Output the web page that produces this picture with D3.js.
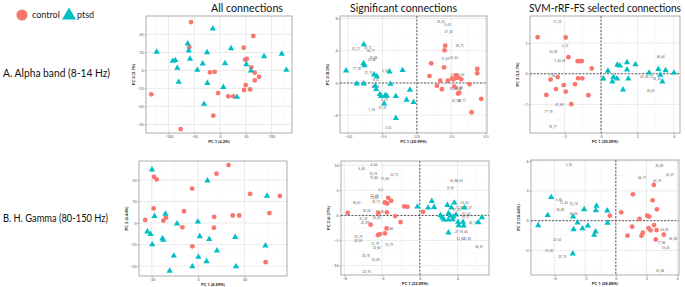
<!DOCTYPE html>
<html>
<head>
<meta charset="utf-8">
<script src="https://cdn.jsdelivr.net/npm/d3@7"></script>
<style>
  body { margin: 0; background: #fff; }
  svg { display: block; }
</style>
</head>
<body>
<div id="chart"></div>
<script>
// ---- data: PC scores, [PC1, PC2] ----

// A. Alpha band, all connections
const alphaAllControl = [[-56.4, 26.8], [64.8, 19.1], [-59.7, 12.9], [46.1, 12.6], [52, 6.4], [49.2, 5.9], [60.9, 1.7], [67.5, -1.3], [75.9, -3.6], [-19.5, -1.1], [-10.3, -0.8], [67.5, -5.6], [50, -8.2], [58.4, -10.6], [46.7, -10.9], [-3.9, -12.6], [16.2, -14.4], [25.9, -14.4], [-133.7, -13.3], [-13, -25.2], [-76.5, -32.6]];
const alphaAllPtsd = [[-14.2, 23.1], [-62.9, 14.8], [-60.9, 10.9], [-123.2, 10.3], [-25.3, 10], [21.4, 12.2], [85.6, 7.8], [120.1, 9.1], [-92.1, 5.2], [-87, 5.6], [-58.4, 6.4], [-33.7, 3.7], [9.7, 3.9], [51.2, 3.3], [-83.1, 1.3], [-44.2, 0.2], [60.3, -0.2], [129, 0.2], [-80.4, -6.5], [-24.7, -7.1], [6.4, -9.3], [33.1, -14.8], [-31.1, -18.7]];

// B. High gamma, all connections
const gammaAllControl = [[13.1, 26.9], [7.9, 22.9], [-19, 21.4], [-17.9, 20.3], [-2.6, 16], [22.4, 13.5], [35.2, 12.6], [-19.2, 6.8], [-6.1, 5.5], [14.9, 3.5], [17.7, 3.5], [30.7, 4.6], [6.9, 2.9], [-22.8, 1.4], [-13.9, 2.5], [-15, 1.1], [-6.8, -2], [6.8, -2.2], [-2.5, -10.8], [29.1, -18.2]];
const gammaAllPtsd = [[-19.9, 24.8], [4.0, 19.7], [29.7, 12.6], [-18.8, 3.2], [-14.1, 4.2], [-9.1, -0.3], [-0.1, 0.6], [-21.9, -4], [-20.5, -5.2], [-15.4, -7.2], [-15, -7.8], [0.7, -6.2], [4.8, -7.5], [16, -6.6], [-19.8, -10], [8.1, -12.8], [29, -10.5], [-10.5, -15.2], [0.1, -15.8], [3.6, -17.8], [-12.3, -22.2], [-2.5, -20.2], [16.3, -20.2]];

// A. Alpha band, significant connections
const alphaSigControl = [[2.06, 4.62], [2.01, 4.04], [1.04, 2.43], [1.97, 1.94], [0.92, 0.86], [1.70, 0.29], [1.46, -0.33], [1.82, -0.78], [2.26, 0.29], [2.84, 0.95], [2.86, 0.62], [2.67, 0.45], [2.55, 0.54], [3.03, 0.70], [3.23, 0.45], [3.83, -0.16], [2.72, -0.45], [2.99, -1.32], [3.08, -1.20], [4.39, 1.73], [4.39, 1.20], [4.68, -1.98], [3.98, -3.63]];
const alphaSigPtsd = [[-3.86, 4.78], [-3.88, 2.43], [-3.81, 2.18], [-5.15, 1.52], [-3.11, 1.03], [-2.91, 0.82], [-1.99, 1.40], [-1.04, 1.57], [-4.37, -0.08], [-3.86, -0.08], [-3.03, -0.37], [-2.96, -0.78], [-1.92, -0.12], [-0.51, -0.86], [-2.69, -1.40], [-2.60, -1.65], [-2.31, -1.57], [-2.18, -1.61], [-1.53, -1.65], [-0.75, -2.10], [-0.24, -2.39], [-2.38, -2.56], [-1.53, -4.37]];
const alphaSigLabels = [["25_63", 1.75, 7.55], ["5_62", 2.23, 7.22], ["37_34", 2.31, 6.31], ["26_71", 3.11, 4.54], ["41_17", -4.42, 4.16], ["18_71", -3.57, 4.37], ["36_77", -3.35, 4.0], ["10_86", -3.16, 3.13], ["22_80", -3.28, 2.85], ["77_78", -4.37, 1.73], ["11_75", -3.52, 1.2], ["5_16", -2.31, 1.48], ["8_41", -2.96, 0.37], ["26_58", -3.03, -0.54], ["5_43", -2.4, -1.48], ["6_72", -2.35, -2.1], ["1_16", -3.28, -3.34], ["21_31", -2.5, -3.13], ["3_41", -2.06, -5.53], ["11_64", 2.06, 2.93], ["26_62", 2.69, 3.05], ["12_40", 2.72, 0.99], ["15_64", 3.16, 0.95], ["25_21", 2.67, -0.7], ["10_85", 3.08, -0.62], ["38_71", 3.28, -2.19], ["41_96", 2.84, -2.19], ["22_88", 2.99, -0.78]];

// B. High gamma, significant connections
const gammaSigControl = [[-7.64, 0.53], [-5.21, -1.85], [-3.35, 3.51], [-3.70, 2.58], [-3.45, 2.38], [-3.03, 2.91], [-3.49, 0.6], [-4.4, 0.46], [-2.61, -0.13], [-3.52, -2.58], [-3.70, -3.58], [-4.23, -3.71], [-4.44, -3.91], [-2.04, -1.32], [-1.65, 1.79], [-1.30, 1.72], [0.35, 0.73]];
const gammaSigPtsd = [[-0.25, 1.72], [1.27, 2.85], [0.88, 1.52], [1.51, 1.66], [2.92, 2.05], [3.66, 2.52], [3.35, 1.52], [2.18, 0], [2.39, -0.46], [2.57, -0.86], [3.03, 0.4], [3.03, -0.86], [3.24, -0.07], [3.49, -0.79], [4.05, -1.32], [4.12, -1.99], [4.58, -1.32], [4.65, -2.05], [3.84, 0.13], [3.03, -3.44], [6.58, -0.4], [6.2, -1.39], [4.72, 1.52], [3.56, -0.26]];
const gammaSigLabels = [["4_56", -4.86, 10.0], ["6_40", -6.16, 9.2], ["16_76", -4.93, 8.34], ["22_71", -2.71, 8.15], ["75_80", -4.89, 7.55], ["75_84", -3.7, 7.22], ["4_5", -4.12, 5.17], ["13_48", -4.82, 3.91], ["13_68", -4.82, 3.38], ["18_61", -6.69, 2.52], ["32_71", -4.65, 2.65], ["18_44", -5.63, 0.93], ["22_80", -4.23, 0.73], ["21_32", -5.99, -0.73], ["16_82", -4.58, -0.6], ["41_89", -5.81, -1.46], ["12_88", -3.27, -2.65], ["20_75", -6.51, -4.3], ["20_82", -6.51, -5.03], ["11_79", -4.75, -5.7], ["15_79", -3.27, -5.96], ["10_84", -4.58, -6.56], ["20_76", -5.7, -8.01], ["14_69", -4.68, -8.94], ["23_76", -5.63, -11.19], ["45_88_60", 3.87, 6.95], ["8_54", 3.24, 5.5], ["23_62", 4.75, 2.58], ["71_82", 4.23, 1.39], ["43_47", 5.1, 1.39], ["17_41", 3.87, 1.13], ["61_63", 4.93, 0.26], ["55_57", 4.86, -0.4], ["40_76", 5.63, -1.59], ["27_55_64", 4.4, -3.38], ["61_83", 4.33, -4.77], ["33_83", 5.0, -4.64], ["36_67", 6.27, -6.29]];

// A. Alpha band, SVM-rRF-FS selected connections
const alphaSvmControl = [[-3.48, 1.19], [-1.94, 1.18], [-1.79, 0.54], [-1.28, 0.41], [-1.17, 0.41], [-1.06, 0.41], [-0.51, 0.17], [-2.77, -0.19], [-2.38, -0.11], [-2.05, -0.37], [-2.47, -0.5], [-1.94, -0.58], [-3.0, -0.69], [-1.43, -0.34], [-1.26, -0.15], [-1.03, -0.15], [-0.70, -0.70], [-1.63, -0.99]];
const alphaSvmPtsd = [[0.13, -0.16], [0.38, 0.09], [0.68, -0.11], [0.62, -0.26], [0.88, -0.16], [0.90, 0.29], [1.04, 0.26], [1.43, 0.37], [1.43, 0.13], [1.50, -0.16], [1.89, 0.30], [1.21, -0.52], [2.64, 0.03], [3.15, 0.15], [3.26, -0.04], [3.37, -0.26], [3.55, 0.11], [4.01, 0.03]];
const alphaSvmLabels = [["11_33", -2.4, 1.69], ["5_12", -1.98, 0.9], ["24_69", -2.62, 0.72], ["1_66_45", -2.25, 0.42], ["7_58", -2.71, -0.06], ["43_89", -2.29, -1.03], ["77_78", -2.89, -1.24], ["76_77", -2.66, -1.73], ["46_64", 3.28, 0.53], ["45_68_72", 2.51, -0.1], ["36_34", 3.06, -0.16], ["26_45", 2.73, -0.57]];

// B. High gamma, SVM-rRF-FS selected connections
const gammaSvmControl = [[2.47, 3.59], [1.11, 2.65], [2.39, 2.05], [2.67, 1.14], [0.35, 0.84], [-0.39, 0.50], [2.04, 0.50], [2.17, 0.40], [1.54, 0.17], [2.49, -0.44], [1.06, -0.60], [2.13, -0.74], [2.26, -0.97], [2.65, -0.94], [1.76, -1.21], [1.67, -1.51], [0.76, -1.51], [3.12, -1.41], [2.60, -1.88]];
const gammaSvmPtsd = [[-4.21, 2.35], [-4.43, 0.54], [-5.05, -0.47], [-2.78, 0.40], [-2.49, -0.2], [-2.75, -0.87], [-2.06, 1.14], [-2.17, -0.77], [-1.82, -0.5], [-1.26, 1.48], [-1.30, 1.04], [-1.32, -1.11], [-1.41, -1.44], [-0.56, 1.01], [-0.54, -0.23], [-2.80, -3.32]];
const gammaSvmLabels = [["5_50", -3.06, 5.6], ["36_89", 2.82, 5.47], ["66_71", 1.71, 4.26], ["43_76", 2.69, 3.96], ["34_37", 3.51, 4.56], ["6_40", -3.71, 2.11], ["11_45", -3.38, 1.74], ["22_76", -2.73, 1.64], ["18_80", -3.62, 1.07], ["26_86", -2.75, 0.64], ["33_62", -3.82, -1.95], ["15_30", -4.34, -3.05], ["22_75", -3.49, -3.69], ["63_83", 3.17, -0.97], ["66_80", 3.73, -1.85], ["77_84", 2.97, -2.28], ["15_45", 3.25, -2.79], ["41_86", 2.89, -5.03]];

// titles and legend text
const columnTitles = ["All connections", "Significant connections", "SVM-rRF-FS selected connections"];
const rowLabels = ["A. Alpha band (8-14 Hz)", "B. H. Gamma (80-150 Hz)"];
const groups = ["control", "ptsd"];

// ---- layout ----
const width = 685, height = 287;
const red = "#F8766D", teal = "#00BFC4";
const font = "Lato, 'Open Sans', sans-serif";

const svg = d3.select("#chart")
    .append("svg")
    .attr("width", width)
    .attr("height", height);

const panels = [
    { left: 146, right: 292, top: 16, bottom: 133, xDomain: [-144, 140], yDomain: [-34.8, 30.2],
      xTicks: [-100, -50, 0, 50, 100], yTicks: [-30, -20, -10, 0, 10, 20], fmt: d3.format("d"), yFmt: d3.format("d"),
      xTitle: "PC 1 (4.2%)", yTitle: "PC 2 (3.7%)", control: alphaAllControl, ptsd: alphaAllPtsd, labels: [], dashed: false },
    { left: 139, right: 287, top: 161, bottom: 276, xDomain: [-25.5, 38.3], yDomain: [-24.6, 28.8],
      xTicks: [-20, 0, 20], yTicks: [-20, -10, 0, 10, 20], fmt: d3.format("d"), yFmt: d3.format("d"),
      xTitle: "PC 1 (8.89%)", yTitle: "PC 2 (6.44%)", control: gammaAllControl, ptsd: gammaAllPtsd, labels: [], dashed: false },
    { left: 340, right: 487, top: 16, bottom: 133, xDomain: [-5.59, 5.1], yDomain: [-6.2, 8.3],
      xTicks: [-5, -2.5, 0, 2.5, 5], yTicks: [-4, 0, 4, 8], fmt: d3.format(".1f"), yFmt: d3.format("d"),
      xTitle: "PC 1 (20.99%)", yTitle: "PC 2 (8.2%)", control: alphaSigControl, ptsd: alphaSigPtsd, labels: alphaSigLabels, dashed: true },
    { left: 341, right: 489, top: 161, bottom: 275, xDomain: [-8.35, 7.33], yDomain: [-11.87, 10.85],
      xTicks: [-8, -4, 0, 4], yTicks: [-10, -5, 0, 5, 10], fmt: d3.format("d"), yFmt: d3.format("d"),
      xTitle: "PC 1 (22.09%)", yTitle: "PC 2 (6.27%)", control: gammaSigControl, ptsd: gammaSigPtsd, labels: gammaSigLabels, dashed: true },
    { left: 530, right: 680, top: 16, bottom: 133, xDomain: [-3.9, 4.34], yDomain: [-1.93, 1.88],
      xTicks: [-2, 0, 2, 4], yTicks: [-1, 0, 1], fmt: d3.format("d"), yFmt: d3.format("d"),
      xTitle: "PC 1 (30.09%)", yTitle: "PC 2 (13.7%)", control: alphaSvmControl, ptsd: alphaSvmPtsd, labels: alphaSvmLabels, dashed: true },
    { left: 531, right: 679, top: 160, bottom: 275, xDomain: [-5.52, 4.11], yDomain: [-5.46, 6.1],
      xTicks: [-4, -2, 0, 2, 4], yTicks: [-3, 0, 3, 6], fmt: d3.format("d"), yFmt: d3.format("d"),
      xTitle: "PC 1 (28.88%)", yTitle: "PC 2 (10.44%)", control: gammaSvmControl, ptsd: gammaSvmPtsd, labels: gammaSvmLabels, dashed: true }
];

// minor grid positions halfway between major ticks
function minors(ticks, domain) {
    const step = ticks[1] - ticks[0];
    return d3.range(ticks[0] - step / 2, domain[1], step).filter(v => v > domain[0]);
}

function drawPanel(p) {
    const x = d3.scaleLinear().domain(p.xDomain).range([p.left, p.right]);
    const y = d3.scaleLinear().domain(p.yDomain).range([p.bottom, p.top]);
    const g = svg.append("g");

    // minor grid
    g.selectAll(".mx").data(minors(p.xTicks, p.xDomain)).enter().append("line")
        .attr("x1", d => x(d)).attr("x2", d => x(d)).attr("y1", p.top).attr("y2", p.bottom)
        .attr("stroke", "#f4f4f4").attr("stroke-width", 0.5);
    g.selectAll(".my").data(minors(p.yTicks, p.yDomain)).enter().append("line")
        .attr("y1", d => y(d)).attr("y2", d => y(d)).attr("x1", p.left).attr("x2", p.right)
        .attr("stroke", "#f4f4f4").attr("stroke-width", 0.5);

    // major grid
    g.selectAll(".gx").data(p.xTicks).enter().append("line")
        .attr("x1", d => x(d)).attr("x2", d => x(d)).attr("y1", p.top).attr("y2", p.bottom)
        .attr("stroke", "#e6e6e6").attr("stroke-width", 0.8);
    g.selectAll(".gy").data(p.yTicks).enter().append("line")
        .attr("y1", d => y(d)).attr("y2", d => y(d)).attr("x1", p.left).attr("x2", p.right)
        .attr("stroke", "#e6e6e6").attr("stroke-width", 0.8);

    // axes
    const xAxis = g.append("g").attr("transform", `translate(0,${p.bottom})`)
        .call(d3.axisBottom(x).tickValues(p.xTicks).tickSize(1.5).tickPadding(1).tickFormat(p.fmt));
    const yAxis = g.append("g").attr("transform", `translate(${p.left},0)`)
        .call(d3.axisLeft(y).tickValues(p.yTicks).tickSize(1.5).tickPadding(1).tickFormat(p.yFmt));
    [xAxis, yAxis].forEach(a => {
        a.select(".domain").remove();
        a.selectAll("line").attr("stroke", "#555").attr("stroke-width", 0.5);
        a.selectAll("text").attr("font-size", 3.6).attr("font-family", font).attr("fill", "#555");
    });

    // zero reference lines
    if (p.dashed) {
        g.append("line").attr("x1", x(0)).attr("x2", x(0)).attr("y1", p.top).attr("y2", p.bottom)
            .attr("stroke", "#333").attr("stroke-width", 0.8).attr("stroke-dasharray", "2,1.5");
        g.append("line").attr("y1", y(0)).attr("y2", y(0)).attr("x1", p.left).attr("x2", p.right)
            .attr("stroke", "#333").attr("stroke-width", 0.8).attr("stroke-dasharray", "2,1.5");
    }

    // connection labels
    g.selectAll(".lab").data(p.labels).enter().append("text")
        .attr("x", d => x(d[1])).attr("y", d => y(d[2]))
        .attr("dy", "0.35em").attr("text-anchor", "middle")
        .attr("font-size", 2.9).attr("font-family", font).attr("fill", "#555")
        .text(d => d[0]);

    // points
    g.selectAll(".ctl").data(p.control).enter().append("circle")
        .attr("cx", d => x(d[0])).attr("cy", d => y(d[1])).attr("r", 2.4)
        .attr("fill", red);
    g.selectAll(".pt").data(p.ptsd).enter().append("path")
        .attr("d", d3.symbol(d3.symbolTriangle, 17))
        .attr("transform", d => `translate(${x(d[0])},${y(d[1])})`)
        .attr("fill", teal);

    // panel border
    g.append("rect").attr("x", p.left).attr("y", p.top)
        .attr("width", p.right - p.left).attr("height", p.bottom - p.top)
        .attr("fill", "none").attr("stroke", "#9a9a9a").attr("stroke-width", 0.8);

    // axis titles
    g.append("text").attr("x", (p.left + p.right) / 2).attr("y", p.bottom + 10)
        .attr("text-anchor", "middle").attr("font-size", 4.2).attr("font-weight", "bold")
        .attr("font-family", font).attr("fill", "#222").text(p.xTitle);
    g.append("text")
        .attr("transform", `translate(${p.left - 11},${(p.top + p.bottom) / 2}) rotate(-90)`)
        .attr("text-anchor", "middle").attr("font-size", 4.2).attr("font-weight", "bold")
        .attr("font-family", font).attr("fill", "#222").text(p.yTitle);
}

panels.forEach(drawPanel);

// column titles (narrow face in the original, so squeeze to its width)
const titleX = [211, 350, 529];
const titleW = [72, 107, 152];
svg.selectAll(".ctitle").data(columnTitles).enter().append("text")
    .attr("x", (_, i) => titleX[i]).attr("y", 12)
    .attr("font-size", 12)
    .attr("textLength", (_, i) => titleW[i]).attr("lengthAdjust", "spacingAndGlyphs")
    .attr("font-family", font).attr("fill", "#111")
    .text(d => d);

// row labels
const rowY = [77, 222];
const rowW = [107, 105];
svg.selectAll(".rlabel").data(rowLabels).enter().append("text")
    .attr("x", 3).attr("y", (_, i) => rowY[i])
    .attr("font-size", 11.5)
    .attr("textLength", (_, i) => rowW[i]).attr("lengthAdjust", "spacingAndGlyphs")
    .attr("font-family", font).attr("fill", "#111")
    .text(d => d);

// legend
const legend = svg.append("g");
legend.append("circle").attr("cx", 22).attr("cy", 15).attr("r", 5.6).attr("fill", red);
legend.append("text").attr("x", 32).attr("y", 18).attr("font-size", 9)
    .attr("font-family", font).attr("fill", "#222").text(groups[0]);
legend.append("path").attr("d", d3.symbol(d3.symbolTriangle, 85))
    .attr("transform", "translate(69,15.5)").attr("fill", teal);
legend.append("text").attr("x", 77).attr("y", 18).attr("font-size", 9)
    .attr("font-family", font).attr("fill", "#222").text(groups[1]);
</script>
</body>
</html>
